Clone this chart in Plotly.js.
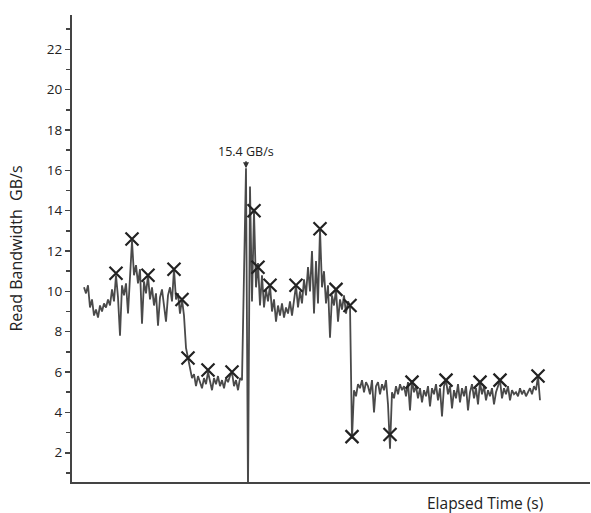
<!DOCTYPE html>
<html>
<head>
<meta charset="utf-8">
<script src="https://cdn.plot.ly/plotly-3.0.1.min.js"></script>
<style>html,body{margin:0;padding:0;background:#fff;}#chart{width:591px;height:513px;}</style>
</head>
<body>
<div id="chart"></div>
<script>
// Read bandwidth samples (GB/s), one per sample step
const bandwidth = [
  10.2, 9.9, 10.3, 9.2, 9.6, 8.8, 9.1, 8.7, 9.3, 9.0,
  9.4, 9.2, 9.6, 9.3, 10.1, 9.5, 10.8, 9.7, 7.8, 10.3,
  9.8, 10.4, 8.9, 10.6, 12.5, 10.8, 11.3, 10.4, 11.1, 8.4,
  10.5, 9.9, 10.8, 9.6, 10.2, 9.3, 9.9, 8.3, 9.7, 10.1,
  9.4, 8.5, 9.8, 10.2, 9.5, 11.1, 9.6, 9.9, 8.9, 9.6,
  8.8, 7.2, 6.7, 6.2, 5.7, 5.9, 5.3, 5.8, 5.5, 5.2,
  5.7, 5.4, 6.0, 5.6, 5.1, 5.7, 5.4, 5.8, 5.3, 5.6,
  5.2, 5.7, 5.5, 5.8, 6.0, 5.3, 5.6, 5.1, 5.7, 5.6,
  11.4, 16.1, 0.0, 15.2, 9.5, 14.0, 10.2, 11.4, 9.3, 10.8,
  9.2, 10.1, 9.5, 10.3, 9.0, 9.6, 8.5, 9.3, 8.8, 9.4,
  8.7, 9.2, 8.9, 9.5, 8.8, 9.6, 10.3, 9.2, 10.0, 9.4,
  10.6, 9.8, 11.2, 10.0, 12.0, 8.9, 11.5, 9.4, 13.1, 10.2,
  11.0, 9.4, 10.3, 7.7, 9.8, 9.3, 10.1, 8.5, 9.6, 9.1,
  9.8, 8.9, 9.5, 9.3, 2.7, 5.1, 4.8, 5.4, 5.2, 5.6,
  5.0, 5.5, 5.3, 4.9, 5.6, 4.0, 5.3, 5.5, 4.9, 5.4,
  5.1, 5.6, 4.4, 2.2, 5.0, 4.7, 5.3, 4.9, 5.4, 5.1,
  5.3, 4.8, 5.5, 4.1, 5.6, 5.0, 5.3, 4.7, 5.2, 4.5,
  5.1, 4.8, 5.3, 4.3, 5.2, 4.9, 5.4, 4.6, 5.2, 3.8,
  5.3, 5.6, 4.9, 5.3, 4.2, 5.1, 4.7, 5.4, 4.5, 5.2,
  4.8, 5.3, 4.1, 5.0, 5.4, 4.7, 5.2, 4.4, 5.5, 4.9,
  5.3, 4.6, 5.1, 4.8, 5.2, 4.4, 5.0, 5.3, 5.6, 4.7,
  5.2, 4.9, 5.3, 4.6, 5.1, 4.9, 5.0, 4.8, 5.2, 4.9,
  5.1, 4.8, 5.0, 5.2, 4.9, 5.3, 5.1, 5.8, 4.6
];

// Marked samples (sample index, GB/s)
const markIndex = [16, 24, 32, 45, 49, 52, 62, 74, 85, 87, 93, 106, 118, 126, 133, 134, 153, 164, 181, 198, 208, 227];
const markValue = [10.9, 12.6, 10.8, 11.1, 9.6, 6.7, 6.1, 6.0, 14.0, 11.2, 10.3, 10.3, 13.1, 10.1, 9.3, 2.8, 2.9, 5.5, 5.6, 5.5, 5.6, 5.8];

// Peak annotation
const peakIndex = 81;
const peakValue = 16.1;
const peakLabel = "15.4 GB/s";

const yTickVals = [2, 4, 6, 8, 10, 12, 14, 16, 18, 20, 22];
const yMinorVals = [1, 3, 5, 7, 9, 11, 13, 15, 17, 19, 21, 23];

const yTitle = "Read Bandwidth  GB/s";
const xTitle = "Elapsed Time (s)";

const font = "Open Sans, Liberation Sans, sans-serif";

const traces = [
  {
    type: "scatter",
    mode: "lines",
    y: bandwidth,
    line: {color: "#4a4a4a", width: 1.8},
    hoverinfo: "y",
    showlegend: false
  },
  {
    type: "scatter",
    mode: "markers",
    x: markIndex,
    y: markValue,
    marker: {symbol: "x-thin-open", size: 13, color: "#222", line: {color: "#222", width: 2.2}},
    showlegend: false
  }
];

const layout = {
  width: 591,
  height: 513,
  margin: {l: 72, r: 1, t: 15, b: 31},
  paper_bgcolor: "#fff",
  plot_bgcolor: "#fff",
  font: {family: font, color: "#222", size: 13},
  showlegend: false,
  xaxis: {
    range: [-6, 253],
    showgrid: false,
    zeroline: false,
    showline: true,
    linecolor: "#444",
    linewidth: 2,
    ticks: "",
    showticklabels: false
  },
  yaxis: {
    range: [0.55, 23.7],
    tickmode: "array",
    tickvals: yTickVals,
    ticks: "outside",
    ticklen: 5,
    tickwidth: 1.5,
    tickcolor: "#444",
    minor: {tickmode: "array", tickvals: yMinorVals, ticks: "outside", ticklen: 4, tickwidth: 1.5, tickcolor: "#444"},
    showgrid: false,
    zeroline: false,
    showline: true,
    linecolor: "#444",
    linewidth: 2,
    tickfont: {size: 13.5, color: "#222"},
    title: {text: yTitle, font: {size: 16, color: "#222"}, standoff: 20}
  },
  annotations: [
    {
      x: peakIndex, y: peakValue, xref: "x", yref: "y",
      text: peakLabel, showarrow: true, ax: 0, ay: -17,
      arrowhead: 2, arrowsize: 0.8, arrowwidth: 1.5, arrowcolor: "#333",
      font: {size: 12.5, color: "#222"}
    },
    {
      x: 0.797, y: -0.045, xref: "paper", yref: "paper",
      xanchor: "center", yanchor: "middle",
      text: xTitle, showarrow: false,
      font: {size: 15.5, color: "#222"}
    }
  ]
};

Plotly.newPlot("chart", traces, layout, {displayModeBar: false, staticPlot: true});
</script>
</body>
</html>
